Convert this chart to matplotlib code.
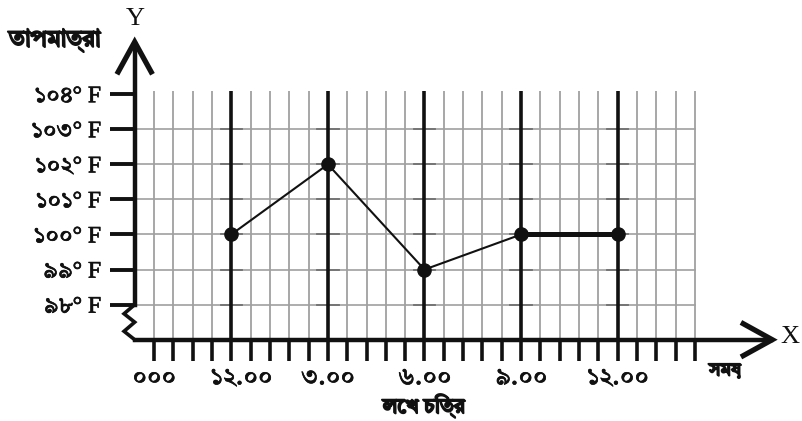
import matplotlib
matplotlib.use("Agg")
import matplotlib.pyplot as plt
import matplotlib.patheffects as pe

# ---------------- data ----------------
y_tick_values = [98, 99, 100, 101, 102, 103, 104]
y_tick_labels = ["৯৮° F", "৯৯° F", "১০০° F", "১০১° F", "১০২° F", "১০৩° F", "১০৪° F"]
x_tick_positions = [0, 4, 9, 14, 19, 24]
x_tick_labels = ["০০০", "১২.০০", "৩.০০", "৬.০০", "৯.০০", "১২.০০"]
point_positions = [4, 9, 14, 19, 24]
temperatures = [100, 102, 99, 100, 100]
y_axis_title = "তাপমাত্রা"
x_axis_title = "সময়"
caption = "লেখ চিত্র"

FAM = ["Tiro Bangla", "Noto Serif Bengali", "FreeSerif", "Liberation Serif", "DejaVu Sans"]
plt.rcParams['font.family'] = FAM
INK = "#111111"

W, H = 803, 421
fig = plt.figure(figsize=(W / 100, H / 100), dpi=100)
ax = fig.add_axes([0, 0, 1, 1])
ax.set_axis_off()

# pixel mapping -> data limits
px_per_x = 19.32
x0_px = 154.0
px_per_y = 35.07
ax.set_xlim(-x0_px / px_per_x, (W - x0_px) / px_per_x)
yc, pc = 100.5, 216.95
ax.set_ylim(yc - (H - pc) / px_per_y, yc + pc / px_per_y)


def dx(px):
    return px / px_per_x


def dy(px):
    return px / px_per_y


def X(px):
    return (px - x0_px) / px_per_x


def Y(py):
    return yc - (py - pc) / px_per_y


y_axis_x = -1.0
x_axis_y = 97.0
grid_top = 104.1
grid_right = 28

thick = set(point_positions)
# vertical grid lines
for i in range(0, grid_right + 1):
    if i in thick:
        ax.plot([i, i], [x_axis_y, grid_top], color=INK, lw=2.6, zorder=3,
                solid_capstyle="butt")
    else:
        ax.plot([i, i], [x_axis_y, grid_top], color="#a0a0a0", lw=1.3, zorder=1,
                solid_capstyle="butt")
# horizontal grid lines
for v in y_tick_values[:-1]:
    ax.plot([y_axis_x, grid_right], [v, v], color="#a0a0a0", lw=1.2, zorder=1)
    for t in thick:
        ax.plot([t - 0.55, t + 0.55], [v, v], color="#707070", lw=1.3, zorder=2)

# x-axis ticks below the axis
for i in range(0, grid_right + 1):
    ax.plot([i, i], [x_axis_y, x_axis_y - dy(21)], color=INK, lw=2.6,
            zorder=3, solid_capstyle="butt")

# y-axis ticks
for v in y_tick_values:
    ax.plot([y_axis_x - dx(25), y_axis_x], [v, v], color=INK, lw=2.8,
            zorder=3, solid_capstyle="butt")

# axes lines
y_tip = 105.49
ax.plot([y_axis_x, y_axis_x], [98, y_tip - 0.05], color=INK, lw=3.2, zorder=4)
# zigzag break
zx = [0, -0.55, 0, -0.55, 0]
zy = [98, 97.74, 97.5, 97.24, 97.0]
ax.plot([y_axis_x + d for d in zx], zy, color=INK, lw=2.6, zorder=4,
        solid_joinstyle="miter")
x_tip = 32.0
ax.plot([y_axis_x, x_tip - 0.05], [x_axis_y, x_axis_y], color=INK, lw=3.2,
        zorder=4)
# arrow heads
ax.plot([y_axis_x - dx(16.5), y_axis_x, y_axis_x + dx(16.5)],
        [y_tip - dy(30), y_tip, y_tip - dy(30)], color=INK,
        lw=3.8, zorder=4, solid_joinstyle="miter")
ax.plot([x_tip - dx(29), x_tip, x_tip - dx(29)],
        [x_axis_y + dy(16), x_axis_y, x_axis_y - dy(16)],
        color=INK, lw=3.8, zorder=4, solid_joinstyle="miter")

# data line
ax.plot(point_positions[:4], temperatures[:4], color=INK, lw=1.5, zorder=5)
ax.plot(point_positions[3:], temperatures[3:], color=INK, lw=3.6, zorder=5)
ax.plot(point_positions, temperatures, "o", color=INK, ms=9.5, zorder=6)

thin_fx = [pe.withStroke(linewidth=0.5, foreground=INK)]
bold_fx = [pe.withStroke(linewidth=1.3, foreground=INK)]

# tick labels
for v, lab in zip(y_tick_values, y_tick_labels):
    ax.text(X(101), v, lab, ha="right", va="center_baseline",
            fontsize=17, color=INK, path_effects=thin_fx,
            family=["Liberation Serif", "Tiro Bangla", "DejaVu Sans"])
label_dx = [0, 10, 0, 0, 0, 0]
for p, lab, o in zip(x_tick_positions, x_tick_labels, label_dx):
    ax.text(p + dx(o), Y(375), lab, ha="center", va="center_baseline",
            fontsize=18, color=INK, path_effects=thin_fx)

# titles
ax.text(X(135), Y(19), "Y", ha="center", va="center",
        fontsize=19, color=INK, family=["Liberation Serif"])
ax.text(X(790), Y(337), "X", ha="center", va="center",
        fontsize=19, color=INK, family=["Liberation Serif"])
ax.text(X(9), Y(40), y_axis_title, ha="left", va="center",
        fontsize=17, color=INK, path_effects=bold_fx)
ax.text(X(725), Y(370), x_axis_title,
        ha="center", va="center", fontsize=13, color=INK, path_effects=bold_fx)
ax.text(X(424), Y(406), caption,
        ha="center", va="center", fontsize=15, color=INK, path_effects=bold_fx)

fig.savefig("out.png", dpi=100)
